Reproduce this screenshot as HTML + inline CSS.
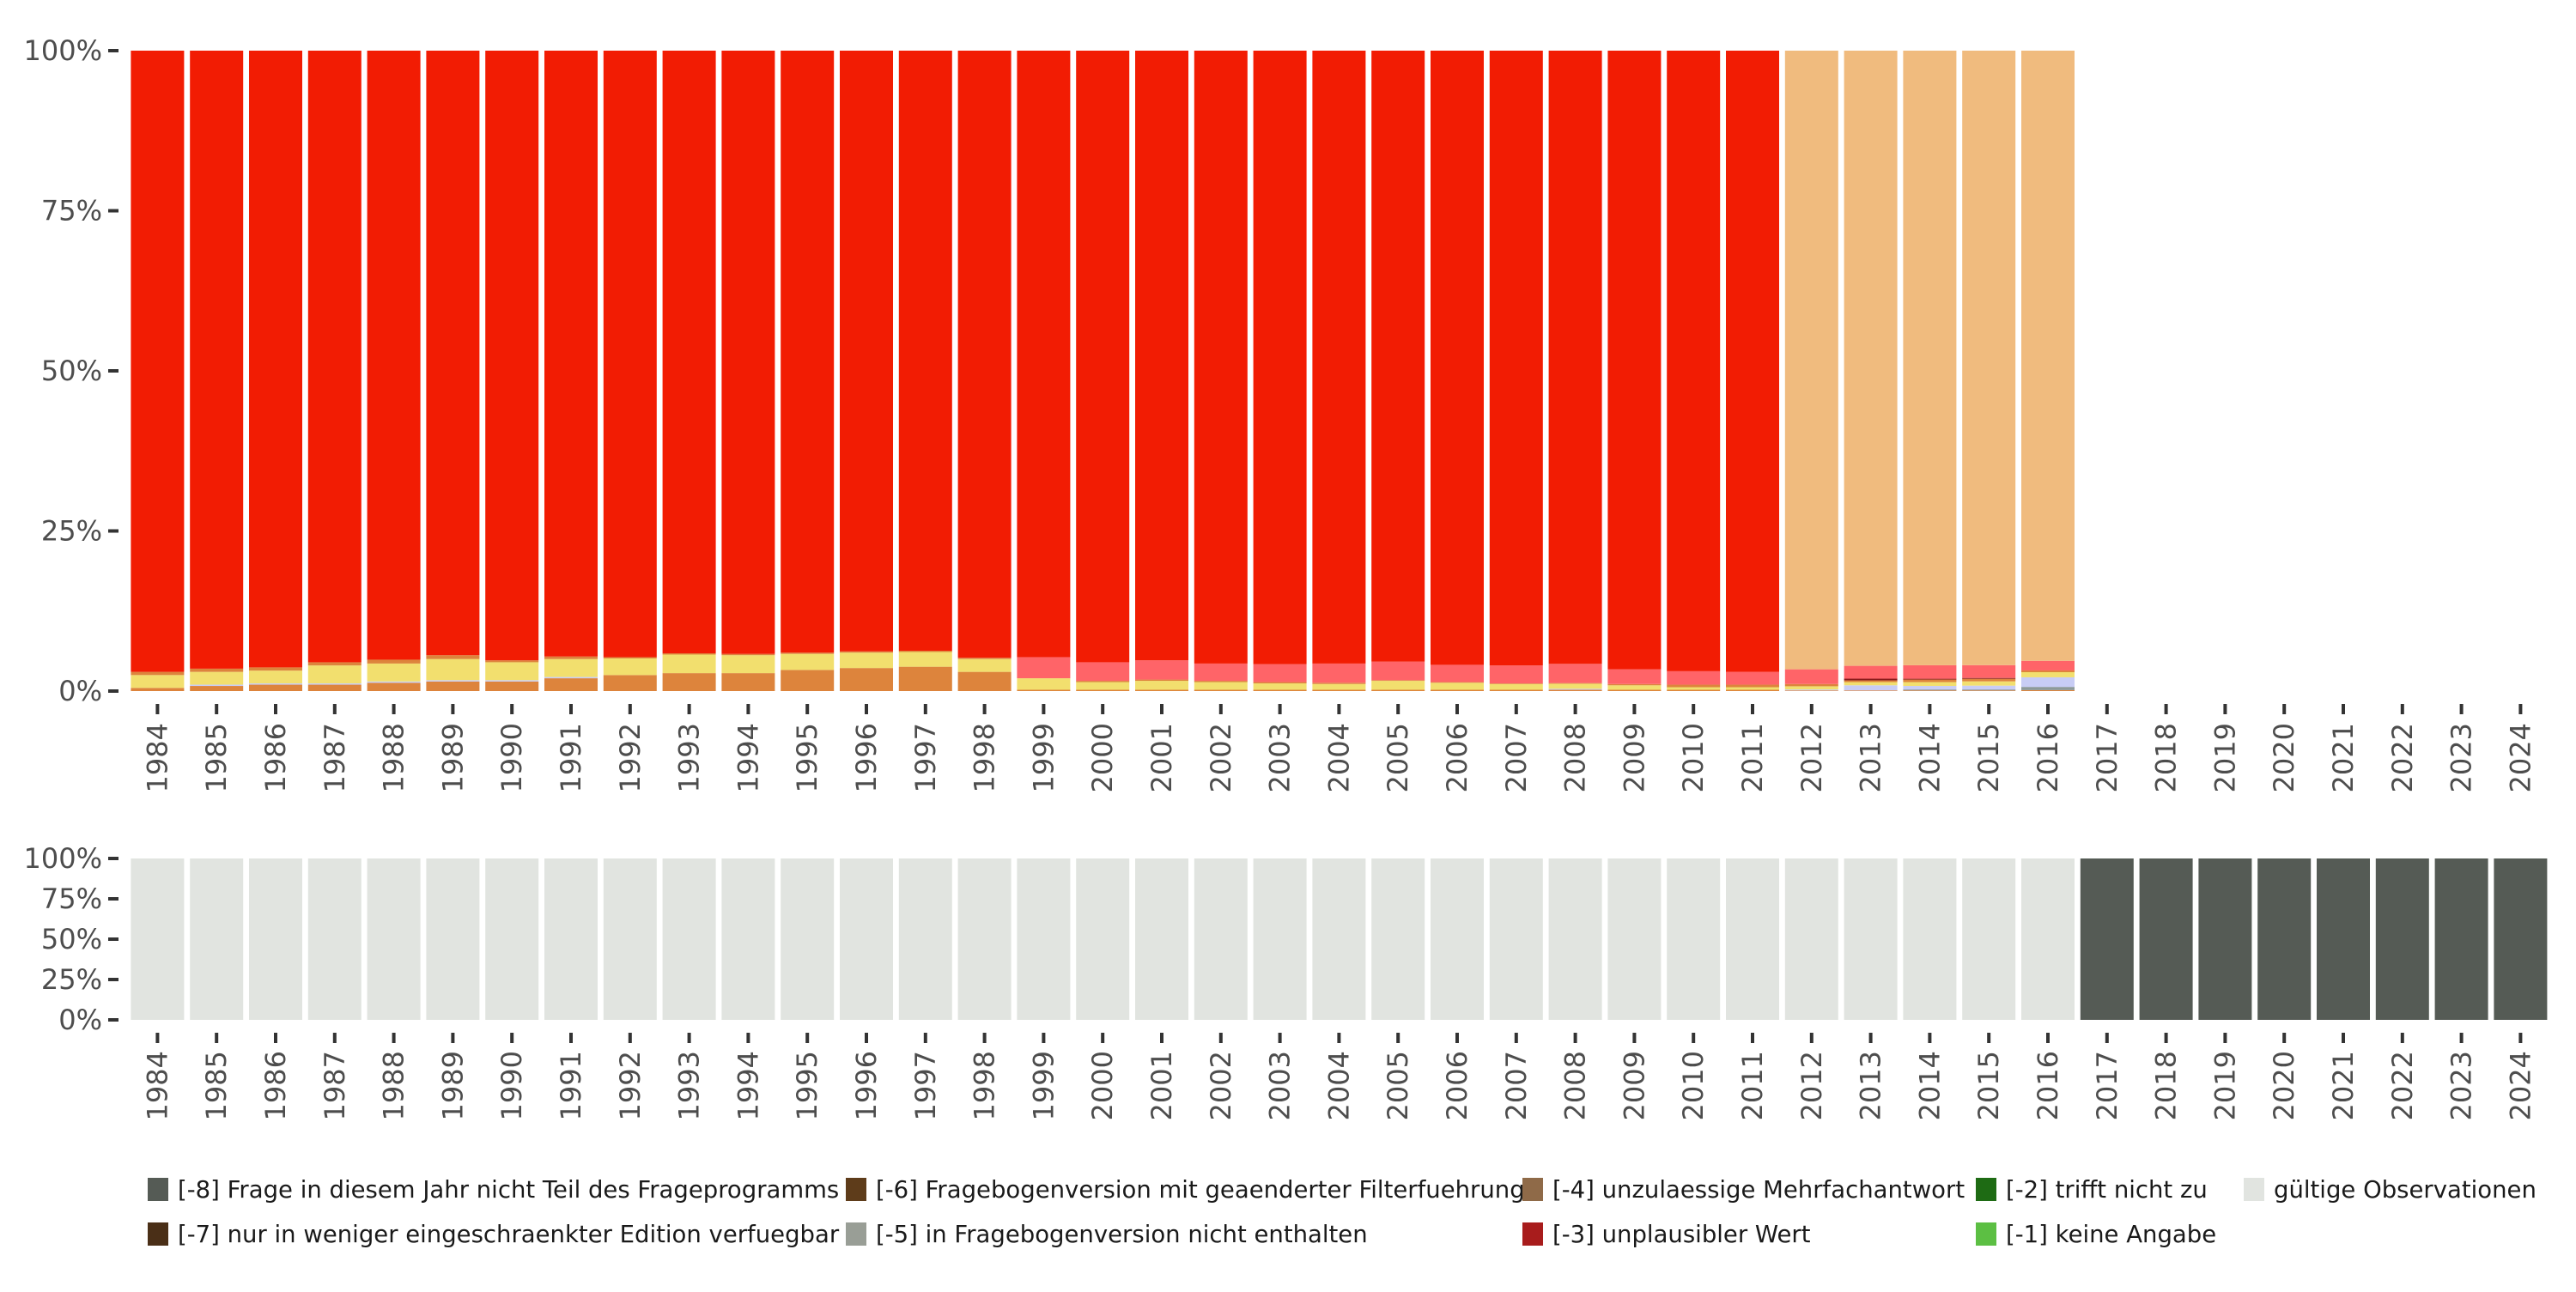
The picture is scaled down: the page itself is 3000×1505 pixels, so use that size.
<!DOCTYPE html>
<html><head><meta charset="utf-8"><style>
html,body{margin:0;padding:0;background:#fff;}
svg text{font-family:"DejaVu Sans","Liberation Sans",sans-serif;}
</style></head><body>
<svg id="chart" width="3000" height="1500" xmlns="http://www.w3.org/2000/svg">
<g id="topPanel"></g>
<g id="bottomPanel"></g>
<g id="legend"></g>
</svg>
<script>
const years = [];
for (let y = 1984; y <= 2024; y++) years.push(y);
const topYears = [1984,1985,1986,1987,1988,1989,1990,1991,1992,1993,1994,1995,1996,1997,1998,1999,2000,2001,2002,2003,2004,2005,2006,2007,2008,2009,2010,2011,2012,2013,2014,2015,2016];
const sOrangeA = [0.5,0.8,1.0,1.0,1.3,1.5,1.5,2.0,2.5,2.8,2.8,3.3,3.6,3.8,3.0,0.2,0.2,0.2,0.2,0.2,0.2,0.2,0.2,0.2,0.2,0.2,0.2,0.2,0.1,0.1,0.1,0.1,0.15];
const sGrey    = [0,0,0,0,0,0,0,0,0,0,0,0,0,0,0,0,0,0,0,0,0,0,0,0,0,0,0,0,0,0,0.15,0.15,0.5];
const sLavender= [0,0.2,0.2,0.2,0.2,0.2,0.2,0.2,0,0,0,0,0,0,0,0,0,0,0,0,0,0,0,0,0.15,0,0,0,0.15,0.8,0.55,0.6,1.5];
const sYellow  = [2.0,2.0,2.0,2.8,2.8,3.3,2.8,2.8,2.6,2.9,2.8,2.5,2.4,2.3,2.0,1.8,1.2,1.4,1.2,1.0,0.9,1.4,1.1,0.9,0.8,0.7,0.4,0.4,0.5,0.5,0.6,0.67,0.8];
const sOrangeB = [0.5,0.5,0.5,0.5,0.6,0.6,0.3,0.4,0.2,0.2,0.2,0.2,0.2,0.2,0.2,0,0.2,0.2,0.2,0.2,0.2,0.1,0.1,0.1,0.1,0.2,0.4,0.4,0.35,0.27,0.4,0.4,0.27];
const sDarkRed = [0,0,0,0,0,0,0,0,0,0,0,0,0,0,0,0,0,0,0,0,0,0,0,0,0,0,0,0,0,0.27,0.13,0.13,0];
const sSalmon  = [0,0,0,0,0,0,0,0,0,0,0,0,0,0,0,3.3,2.9,3.0,2.7,2.8,3.0,2.9,2.7,2.8,3.0,2.3,2.1,2.0,2.3,2.0,2.1,2.0,1.5];
const peachYears = [2012,2013,2014,2015,2016];
const validYears = topYears;
const yTicks = [0,25,50,75,100];
const yTickLabels = ["0%","25%","50%","75%","100%"];
const legendLabels = ["[-8] Frage in diesem Jahr nicht Teil des Frageprogramms","[-7] nur in weniger eingeschraenkter Edition verfuegbar","[-6] Fragebogenversion mit geaenderter Filterfuehrung","[-5] in Fragebogenversion nicht enthalten","[-4] unzulaessige Mehrfachantwort","[-3] unplausibler Wert","[-2] trifft nicht zu","[-1] keine Angabe","gültige Observationen"];

const NS="http://www.w3.org/2000/svg";
const plotLeft=149, step=68.8, bw=62;
function xc(year){return plotLeft+(year-1984+0.5)*step;}
function mk(tag,attrs,parent){const e=document.createElementNS(NS,tag);for(const k in attrs)e.setAttribute(k,attrs[k]);parent.appendChild(e);return e;}

function axes(g,y0,y1,tickY,labY){
  const ys=v=>y0-(v/100)*(y0-y1);
  yTicks.forEach((v,i)=>{
    const t=mk('rect',{x:126,y:ys(v)-2,width:12,height:4,fill:'#333'},g);
    
    
    const l=mk('text',{x:119,y:ys(v)+11,'text-anchor':'end','font-size':32,fill:'#4d4d4d'},g);
    l.textContent=yTickLabels[i];
    
    
  });
  years.forEach(yr=>{
    const t=mk('rect',{x:xc(yr)-2,y:tickY,width:4,height:12,fill:'#333'},g);
    
    
    const l=mk('text',{x:0,y:0,'text-anchor':'end','font-size':32,fill:'#4d4d4d',transform:`translate(${xc(yr)+11},${labY}) rotate(-90)`},g);
    l.textContent=yr;
    
    
  });
  return ys;
}

const topG=document.getElementById('topPanel');
const ysT=axes(topG,805,59,820,842);
const series=[[sOrangeA,'#dd843c'],[sGrey,'#8d9a9a'],[sLavender,'#c8cdf5'],[sYellow,'#f2df6e'],[sOrangeB,'#dd843c'],[sDarkRed,'#8b1a1a'],[sSalmon,'#ff6468']];
topYears.forEach((yr,i)=>{
  let acc=0;
  series.forEach(([arr,col])=>{
    const v=arr[i]; if(!v)return;
    const r=mk('rect',{x:xc(yr)-bw/2,y:ysT(acc+v),width:bw,height:ysT(acc)-ysT(acc+v),fill:col},topG);
    
    
    acc+=v;
  });
  const col=peachYears.includes(yr)?'#f0bb7e':'#f21c03';
  const r=mk('rect',{x:xc(yr)-bw/2,y:ysT(100),width:bw,height:ysT(acc)-ysT(100),fill:col},topG);
  
  
});

const botG=document.getElementById('bottomPanel');
const ysB=axes(botG,1188,1000,1203,1224);
years.forEach(yr=>{
  const valid=validYears.includes(yr);
  const r=mk('rect',{x:xc(yr)-bw/2,y:ysB(100),width:bw,height:ysB(0)-ysB(100),fill:valid?'#e1e4e0':'#555b55'},botG);
  
  
});

const lg=document.getElementById('legend');
const legendColors=['#555b55','#4a2f17','#5e3c1a','#999e96','#8f6a48','#a81c1c','#1e6b14','#5cbf43','#e1e4e0'];
const colsX=[172,172,985,985,1773,1773,2301,2301,2613];
const rowsY=[1385,1437,1385,1437,1385,1437,1385,1437,1385];
legendLabels.forEach((lab,i)=>{
  const gg=mk('g',{},lg);
  
  
  mk('rect',{x:colsX[i],y:rowsY[i]-13,width:24,height:27,fill:legendColors[i]},gg);
  const t=mk('text',{x:colsX[i]+35,y:rowsY[i]+10,'font-size':27.5,fill:'#1a1a1a'},gg);
  t.textContent=lab;
});
</script>
</body></html>
